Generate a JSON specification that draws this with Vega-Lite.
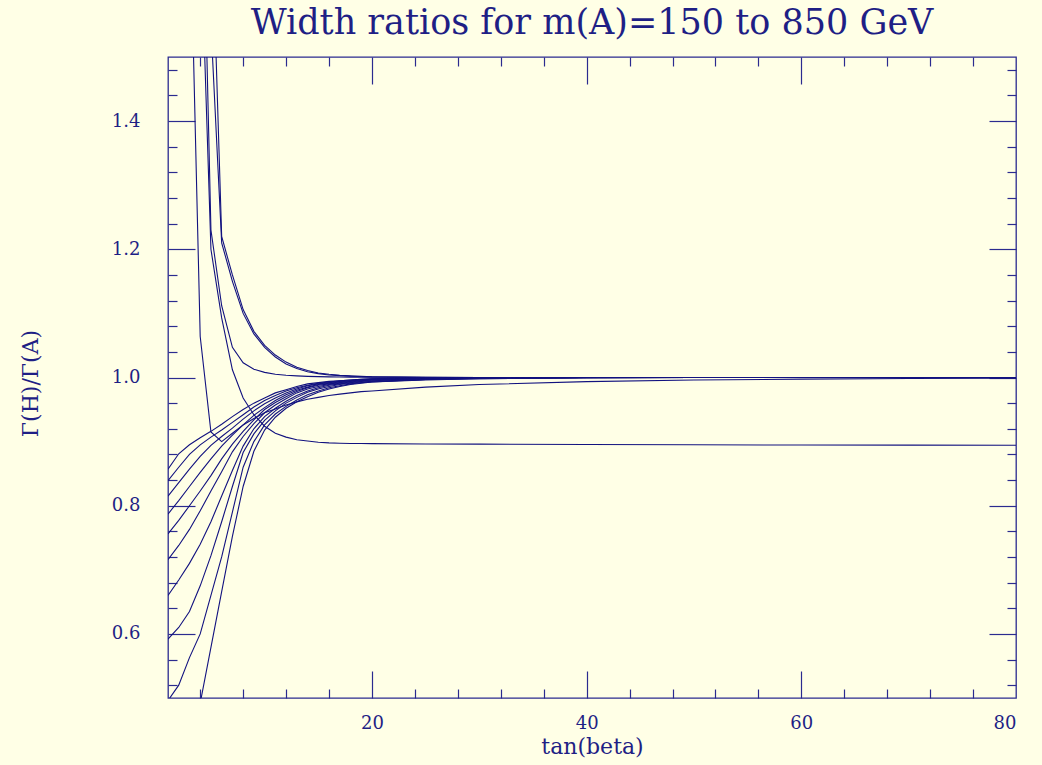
{
"$schema": "https://vega.github.io/schema/vega-lite/v6.json",
"width": 848, "height": 641,
"autosize": "none",
"padding": {"left": 168, "top": 57, "right": 26, "bottom": 67},
"background": "#ffffe6",
"title": {"text": "Width ratios for m(A)=150 to 850 GeV", "font": "DejaVu Serif", "fontSize": 35, "fontWeight": "normal", "color": "#1f1f85", "anchor": "middle", "baseline": "alphabetic", "offset": -13},
"config": {
  "view": {"stroke": "#2b2b8f", "strokeWidth": 1.3},
  "axis": {"domain": false, "grid": false, "labelFont": "DejaVu Serif", "labelFontSize": 18, "labelColor": "#1f1f85", "tickColor": "#2b2b8f", "tickWidth": 1.2, "titleFont": "DejaVu Serif", "titleFontWeight": "normal", "titleColor": "#1f1f85", "titleFontSize": 22}
},
"data": {"values": [
{"m":150,"t":1,"r":3.0},{"m":150,"t":2,"r":2.4},{"m":150,"t":3,"r":1.767},{"m":150,"t":4,"r":1.064},{"m":150,"t":5,"r":0.915},{"m":150,"t":6,"r":0.900},{"m":150,"t":7,"r":0.913},{"m":150,"t":8,"r":0.926},{"m":150,"t":9,"r":0.936},{"m":150,"t":10,"r":0.945},{"m":150,"t":11,"r":0.951},{"m":150,"t":12,"r":0.957},{"m":150,"t":13,"r":0.962},{"m":150,"t":14,"r":0.966},{"m":150,"t":15,"r":0.969},{"m":150,"t":16,"r":0.972},{"m":150,"t":17,"r":0.974},{"m":150,"t":18,"r":0.976},{"m":150,"t":19,"r":0.978},{"m":150,"t":20,"r":0.979},{"m":150,"t":25,"r":0.985},{"m":150,"t":30,"r":0.989},{"m":150,"t":40,"r":0.9935},{"m":150,"t":50,"r":0.996},{"m":150,"t":60,"r":0.9975},{"m":150,"t":70,"r":0.9985},{"m":150,"t":80,"r":0.999},
{"m":200,"t":1,"r":3.5},{"m":200,"t":2,"r":3.0},{"m":200,"t":3,"r":2.4},{"m":200,"t":4,"r":1.72},{"m":200,"t":5,"r":1.20},{"m":200,"t":6,"r":1.093},{"m":200,"t":7,"r":1.012},{"m":200,"t":8,"r":0.968},{"m":200,"t":9,"r":0.942},{"m":200,"t":10,"r":0.924},{"m":200,"t":11,"r":0.913},{"m":200,"t":12,"r":0.907},{"m":200,"t":13,"r":0.903},{"m":200,"t":14,"r":0.901},{"m":200,"t":15,"r":0.899},{"m":200,"t":16,"r":0.898},{"m":200,"t":17,"r":0.8975},{"m":200,"t":18,"r":0.897},{"m":200,"t":19,"r":0.897},{"m":200,"t":20,"r":0.8968},{"m":200,"t":25,"r":0.8963},{"m":200,"t":30,"r":0.896},{"m":200,"t":40,"r":0.8955},{"m":200,"t":50,"r":0.895},{"m":200,"t":60,"r":0.8947},{"m":200,"t":70,"r":0.8945},{"m":200,"t":80,"r":0.8943},
{"m":250,"t":1,"r":3.6},{"m":250,"t":2,"r":3.0},{"m":250,"t":3,"r":2.5},{"m":250,"t":4,"r":1.95},{"m":250,"t":5,"r":1.23},{"m":250,"t":6,"r":1.112},{"m":250,"t":7,"r":1.047},{"m":250,"t":8,"r":1.023},{"m":250,"t":9,"r":1.013},{"m":250,"t":10,"r":1.008},{"m":250,"t":11,"r":1.005},{"m":250,"t":12,"r":1.0035},{"m":250,"t":13,"r":1.0025},{"m":250,"t":14,"r":1.0018},{"m":250,"t":15,"r":1.0013},{"m":250,"t":16,"r":1.001},{"m":250,"t":17,"r":1.0008},{"m":250,"t":18,"r":1.0006},{"m":250,"t":19,"r":1.0005},{"m":250,"t":20,"r":1.0004},{"m":250,"t":25,"r":1.0001},{"m":250,"t":30,"r":1.0},{"m":250,"t":80,"r":1.0},
{"m":300,"t":1,"r":4.0},{"m":300,"t":2,"r":3.4},{"m":300,"t":3,"r":2.7},{"m":300,"t":4,"r":2.1},{"m":300,"t":5,"r":1.55},{"m":300,"t":6,"r":1.21},{"m":300,"t":7,"r":1.15},{"m":300,"t":8,"r":1.10},{"m":300,"t":9,"r":1.068},{"m":300,"t":10,"r":1.047},{"m":300,"t":11,"r":1.032},{"m":300,"t":12,"r":1.021},{"m":300,"t":13,"r":1.014},{"m":300,"t":14,"r":1.009},{"m":300,"t":15,"r":1.006},{"m":300,"t":16,"r":1.004},{"m":300,"t":17,"r":1.003},{"m":300,"t":18,"r":1.002},{"m":300,"t":19,"r":1.0015},{"m":300,"t":20,"r":1.001},{"m":300,"t":25,"r":1.0003},{"m":300,"t":30,"r":1.0001},{"m":300,"t":40,"r":1.0},{"m":300,"t":80,"r":1.0},
{"m":350,"t":1,"r":4.2},{"m":350,"t":2,"r":3.6},{"m":350,"t":3,"r":2.9},{"m":350,"t":4,"r":2.3},{"m":350,"t":5,"r":1.76},{"m":350,"t":6,"r":1.22},{"m":350,"t":7,"r":1.16},{"m":350,"t":8,"r":1.106},{"m":350,"t":9,"r":1.072},{"m":350,"t":10,"r":1.05},{"m":350,"t":11,"r":1.035},{"m":350,"t":12,"r":1.024},{"m":350,"t":13,"r":1.016},{"m":350,"t":14,"r":1.011},{"m":350,"t":15,"r":1.007},{"m":350,"t":16,"r":1.005},{"m":350,"t":17,"r":1.0035},{"m":350,"t":18,"r":1.0025},{"m":350,"t":19,"r":1.0018},{"m":350,"t":20,"r":1.0012},{"m":350,"t":25,"r":1.0003},{"m":350,"t":30,"r":1.0001},{"m":350,"t":40,"r":1.0},{"m":350,"t":80,"r":1.0},
{"m":400,"t":1,"r":0.857},{"m":400,"t":2,"r":0.881},{"m":400,"t":3,"r":0.895},{"m":400,"t":4,"r":0.906},{"m":400,"t":5,"r":0.916},{"m":400,"t":6,"r":0.927},{"m":400,"t":7,"r":0.939},{"m":400,"t":8,"r":0.950},{"m":400,"t":9,"r":0.960},{"m":400,"t":10,"r":0.968},{"m":400,"t":11,"r":0.976},{"m":400,"t":12,"r":0.981},{"m":400,"t":13,"r":0.986},{"m":400,"t":14,"r":0.990},{"m":400,"t":15,"r":0.992},{"m":400,"t":16,"r":0.994},{"m":400,"t":17,"r":0.995},{"m":400,"t":18,"r":0.996},{"m":400,"t":19,"r":0.997},{"m":400,"t":20,"r":0.998},{"m":400,"t":25,"r":0.9995},{"m":400,"t":30,"r":1.0},{"m":400,"t":80,"r":1.0},
{"m":450,"t":1,"r":0.839},{"m":450,"t":2,"r":0.860},{"m":450,"t":3,"r":0.880},{"m":450,"t":4,"r":0.895},{"m":450,"t":5,"r":0.907},{"m":450,"t":6,"r":0.918},{"m":450,"t":7,"r":0.930},{"m":450,"t":8,"r":0.942},{"m":450,"t":9,"r":0.954},{"m":450,"t":10,"r":0.964},{"m":450,"t":11,"r":0.972},{"m":450,"t":12,"r":0.979},{"m":450,"t":13,"r":0.984},{"m":450,"t":14,"r":0.988},{"m":450,"t":15,"r":0.991},{"m":450,"t":16,"r":0.993},{"m":450,"t":17,"r":0.995},{"m":450,"t":18,"r":0.996},{"m":450,"t":19,"r":0.997},{"m":450,"t":20,"r":0.998},{"m":450,"t":25,"r":0.9995},{"m":450,"t":30,"r":1.0},{"m":450,"t":80,"r":1.0},
{"m":500,"t":1,"r":0.815},{"m":500,"t":2,"r":0.836},{"m":500,"t":3,"r":0.857},{"m":500,"t":4,"r":0.877},{"m":500,"t":5,"r":0.894},{"m":500,"t":6,"r":0.908},{"m":500,"t":7,"r":0.921},{"m":500,"t":8,"r":0.935},{"m":500,"t":9,"r":0.948},{"m":500,"t":10,"r":0.959},{"m":500,"t":11,"r":0.968},{"m":500,"t":12,"r":0.976},{"m":500,"t":13,"r":0.982},{"m":500,"t":14,"r":0.987},{"m":500,"t":15,"r":0.990},{"m":500,"t":16,"r":0.992},{"m":500,"t":17,"r":0.994},{"m":500,"t":18,"r":0.995},{"m":500,"t":19,"r":0.996},{"m":500,"t":20,"r":0.997},{"m":500,"t":25,"r":0.999},{"m":500,"t":30,"r":0.9997},{"m":500,"t":40,"r":1.0},{"m":500,"t":80,"r":1.0},
{"m":550,"t":1,"r":0.787},{"m":550,"t":2,"r":0.808},{"m":550,"t":3,"r":0.830},{"m":550,"t":4,"r":0.852},{"m":550,"t":5,"r":0.873},{"m":550,"t":6,"r":0.893},{"m":550,"t":7,"r":0.910},{"m":550,"t":8,"r":0.926},{"m":550,"t":9,"r":0.941},{"m":550,"t":10,"r":0.953},{"m":550,"t":11,"r":0.964},{"m":550,"t":12,"r":0.973},{"m":550,"t":13,"r":0.980},{"m":550,"t":14,"r":0.985},{"m":550,"t":15,"r":0.989},{"m":550,"t":16,"r":0.991},{"m":550,"t":17,"r":0.993},{"m":550,"t":18,"r":0.995},{"m":550,"t":19,"r":0.996},{"m":550,"t":20,"r":0.997},{"m":550,"t":25,"r":0.999},{"m":550,"t":30,"r":0.9997},{"m":550,"t":40,"r":1.0},{"m":550,"t":80,"r":1.0},
{"m":600,"t":1,"r":0.756},{"m":600,"t":2,"r":0.777},{"m":600,"t":3,"r":0.800},{"m":600,"t":4,"r":0.823},{"m":600,"t":5,"r":0.847},{"m":600,"t":6,"r":0.873},{"m":600,"t":7,"r":0.896},{"m":600,"t":8,"r":0.916},{"m":600,"t":9,"r":0.934},{"m":600,"t":10,"r":0.950},{"m":600,"t":11,"r":0.961},{"m":600,"t":12,"r":0.970},{"m":600,"t":13,"r":0.978},{"m":600,"t":14,"r":0.984},{"m":600,"t":15,"r":0.988},{"m":600,"t":16,"r":0.990},{"m":600,"t":17,"r":0.992},{"m":600,"t":18,"r":0.994},{"m":600,"t":19,"r":0.995},{"m":600,"t":20,"r":0.996},{"m":600,"t":25,"r":0.998},{"m":600,"t":30,"r":0.9995},{"m":600,"t":40,"r":1.0},{"m":600,"t":80,"r":1.0},
{"m":650,"t":1,"r":0.716},{"m":650,"t":2,"r":0.738},{"m":650,"t":3,"r":0.763},{"m":650,"t":4,"r":0.792},{"m":650,"t":5,"r":0.823},{"m":650,"t":6,"r":0.853},{"m":650,"t":7,"r":0.884},{"m":650,"t":8,"r":0.908},{"m":650,"t":9,"r":0.928},{"m":650,"t":10,"r":0.945},{"m":650,"t":11,"r":0.957},{"m":650,"t":12,"r":0.967},{"m":650,"t":13,"r":0.976},{"m":650,"t":14,"r":0.982},{"m":650,"t":15,"r":0.986},{"m":650,"t":16,"r":0.989},{"m":650,"t":17,"r":0.991},{"m":650,"t":18,"r":0.993},{"m":650,"t":19,"r":0.995},{"m":650,"t":20,"r":0.996},{"m":650,"t":25,"r":0.998},{"m":650,"t":30,"r":0.9993},{"m":650,"t":40,"r":1.0},{"m":650,"t":80,"r":1.0},
{"m":700,"t":1,"r":0.660},{"m":700,"t":2,"r":0.684},{"m":700,"t":3,"r":0.710},{"m":700,"t":4,"r":0.740},{"m":700,"t":5,"r":0.775},{"m":700,"t":6,"r":0.815},{"m":700,"t":7,"r":0.855},{"m":700,"t":8,"r":0.893},{"m":700,"t":9,"r":0.920},{"m":700,"t":10,"r":0.939},{"m":700,"t":11,"r":0.952},{"m":700,"t":12,"r":0.963},{"m":700,"t":13,"r":0.972},{"m":700,"t":14,"r":0.979},{"m":700,"t":15,"r":0.984},{"m":700,"t":16,"r":0.988},{"m":700,"t":17,"r":0.990},{"m":700,"t":18,"r":0.992},{"m":700,"t":19,"r":0.994},{"m":700,"t":20,"r":0.995},{"m":700,"t":25,"r":0.998},{"m":700,"t":30,"r":0.999},{"m":700,"t":40,"r":0.9998},{"m":700,"t":50,"r":1.0},{"m":700,"t":80,"r":1.0},
{"m":750,"t":1,"r":0.592},{"m":750,"t":2,"r":0.610},{"m":750,"t":3,"r":0.635},{"m":750,"t":4,"r":0.675},{"m":750,"t":5,"r":0.722},{"m":750,"t":6,"r":0.775},{"m":750,"t":7,"r":0.830},{"m":750,"t":8,"r":0.883},{"m":750,"t":9,"r":0.912},{"m":750,"t":10,"r":0.933},{"m":750,"t":11,"r":0.948},{"m":750,"t":12,"r":0.960},{"m":750,"t":13,"r":0.969},{"m":750,"t":14,"r":0.977},{"m":750,"t":15,"r":0.982},{"m":750,"t":16,"r":0.986},{"m":750,"t":17,"r":0.989},{"m":750,"t":18,"r":0.991},{"m":750,"t":19,"r":0.993},{"m":750,"t":20,"r":0.994},{"m":750,"t":25,"r":0.997},{"m":750,"t":30,"r":0.999},{"m":750,"t":40,"r":0.9997},{"m":750,"t":50,"r":1.0},{"m":750,"t":80,"r":1.0},
{"m":800,"t":1,"r":0.496},{"m":800,"t":2,"r":0.520},{"m":800,"t":3,"r":0.563},{"m":800,"t":4,"r":0.600},{"m":800,"t":5,"r":0.660},{"m":800,"t":6,"r":0.720},{"m":800,"t":7,"r":0.790},{"m":800,"t":8,"r":0.860},{"m":800,"t":9,"r":0.900},{"m":800,"t":10,"r":0.926},{"m":800,"t":11,"r":0.943},{"m":800,"t":12,"r":0.955},{"m":800,"t":13,"r":0.965},{"m":800,"t":14,"r":0.973},{"m":800,"t":15,"r":0.979},{"m":800,"t":16,"r":0.984},{"m":800,"t":17,"r":0.987},{"m":800,"t":18,"r":0.990},{"m":800,"t":19,"r":0.992},{"m":800,"t":20,"r":0.993},{"m":800,"t":25,"r":0.997},{"m":800,"t":30,"r":0.998},{"m":800,"t":40,"r":0.9995},{"m":800,"t":50,"r":1.0},{"m":800,"t":80,"r":1.0},
{"m":850,"t":1,"r":0.25},{"m":850,"t":2,"r":0.33},{"m":850,"t":3,"r":0.40},{"m":850,"t":4,"r":0.492},{"m":850,"t":5,"r":0.579},{"m":850,"t":6,"r":0.666},{"m":850,"t":7,"r":0.752},{"m":850,"t":8,"r":0.830},{"m":850,"t":9,"r":0.885},{"m":850,"t":10,"r":0.918},{"m":850,"t":11,"r":0.938},{"m":850,"t":12,"r":0.952},{"m":850,"t":13,"r":0.962},{"m":850,"t":14,"r":0.970},{"m":850,"t":15,"r":0.977},{"m":850,"t":16,"r":0.982},{"m":850,"t":17,"r":0.986},{"m":850,"t":18,"r":0.989},{"m":850,"t":19,"r":0.991},{"m":850,"t":20,"r":0.993},{"m":850,"t":25,"r":0.996},{"m":850,"t":30,"r":0.998},{"m":850,"t":40,"r":0.9995},{"m":850,"t":50,"r":1.0},{"m":850,"t":80,"r":1.0}
]},
"resolve": {"axis": {"x": "independent", "y": "independent"}},
"layer": [
{"mark": {"type": "line", "clip": true, "color": "#12127f", "strokeWidth": 1.1},
 "encoding": {
  "x": {"field": "t", "type": "quantitative", "scale": {"domain": [1, 80], "nice": false, "zero": false},
        "axis": {"orient": "bottom", "values": [20, 40, 60, 80], "ticks": false, "labelPadding": 16, "title": "tan(beta)", "titleX": 424, "titleY": 48, "titleBaseline": "middle"}},
  "y": {"field": "r", "type": "quantitative", "scale": {"domain": [0.5, 1.5], "nice": false, "zero": false},
        "axis": {"orient": "left", "values": [0.6, 0.8, 1.0, 1.2, 1.4], "format": ".1f", "ticks": false, "labelPadding": 28, "title": "Γ(H)/Γ(A)", "titleX": -138, "titleY": 326, "titleBaseline": "middle", "titleAngle": -90}},
  "detail": {"field": "m", "type": "nominal"}}},
{"mark": {"type": "point", "opacity": 0, "clip": true},
 "encoding": {
  "x": {"field": "t", "type": "quantitative", "axis": {"orient": "bottom", "values": [20, 40, 60], "labels": false, "tickSize": -27, "title": null}},
  "y": {"field": "r", "type": "quantitative", "axis": {"orient": "left", "values": [0.6, 0.8, 1.0, 1.2, 1.4], "labels": false, "tickSize": -27, "title": null}}}},
{"mark": {"type": "point", "opacity": 0, "clip": true},
 "encoding": {
  "x": {"field": "t", "type": "quantitative", "axis": {"orient": "bottom", "values": [4, 8, 12, 16, 24, 28, 32, 36, 44, 48, 52, 56, 64, 68, 72, 76], "labels": false, "tickSize": -9, "title": null}},
  "y": {"field": "r", "type": "quantitative", "axis": {"orient": "left", "values": [0.52, 0.56, 0.64, 0.68, 0.72, 0.76, 0.84, 0.88, 0.92, 0.96, 1.04, 1.08, 1.12, 1.16, 1.24, 1.28, 1.32, 1.36, 1.44, 1.48], "labels": false, "tickSize": -9, "title": null}}}},
{"mark": {"type": "point", "opacity": 0, "clip": true},
 "encoding": {
  "x": {"field": "t", "type": "quantitative", "axis": {"orient": "top", "values": [20, 40, 60], "labels": false, "tickSize": -27, "title": null}},
  "y": {"field": "r", "type": "quantitative", "axis": {"orient": "right", "values": [0.6, 0.8, 1.0, 1.2, 1.4], "labels": false, "tickSize": -27, "title": null}}}},
{"mark": {"type": "point", "opacity": 0, "clip": true},
 "encoding": {
  "x": {"field": "t", "type": "quantitative", "axis": {"orient": "top", "values": [4, 8, 12, 16, 24, 28, 32, 36, 44, 48, 52, 56, 64, 68, 72, 76], "labels": false, "tickSize": -9, "title": null}},
  "y": {"field": "r", "type": "quantitative", "axis": {"orient": "right", "values": [0.52, 0.56, 0.64, 0.68, 0.72, 0.76, 0.84, 0.88, 0.92, 0.96, 1.04, 1.08, 1.12, 1.16, 1.24, 1.28, 1.32, 1.36, 1.44, 1.48], "labels": false, "tickSize": -9, "title": null}}}}
]
}
